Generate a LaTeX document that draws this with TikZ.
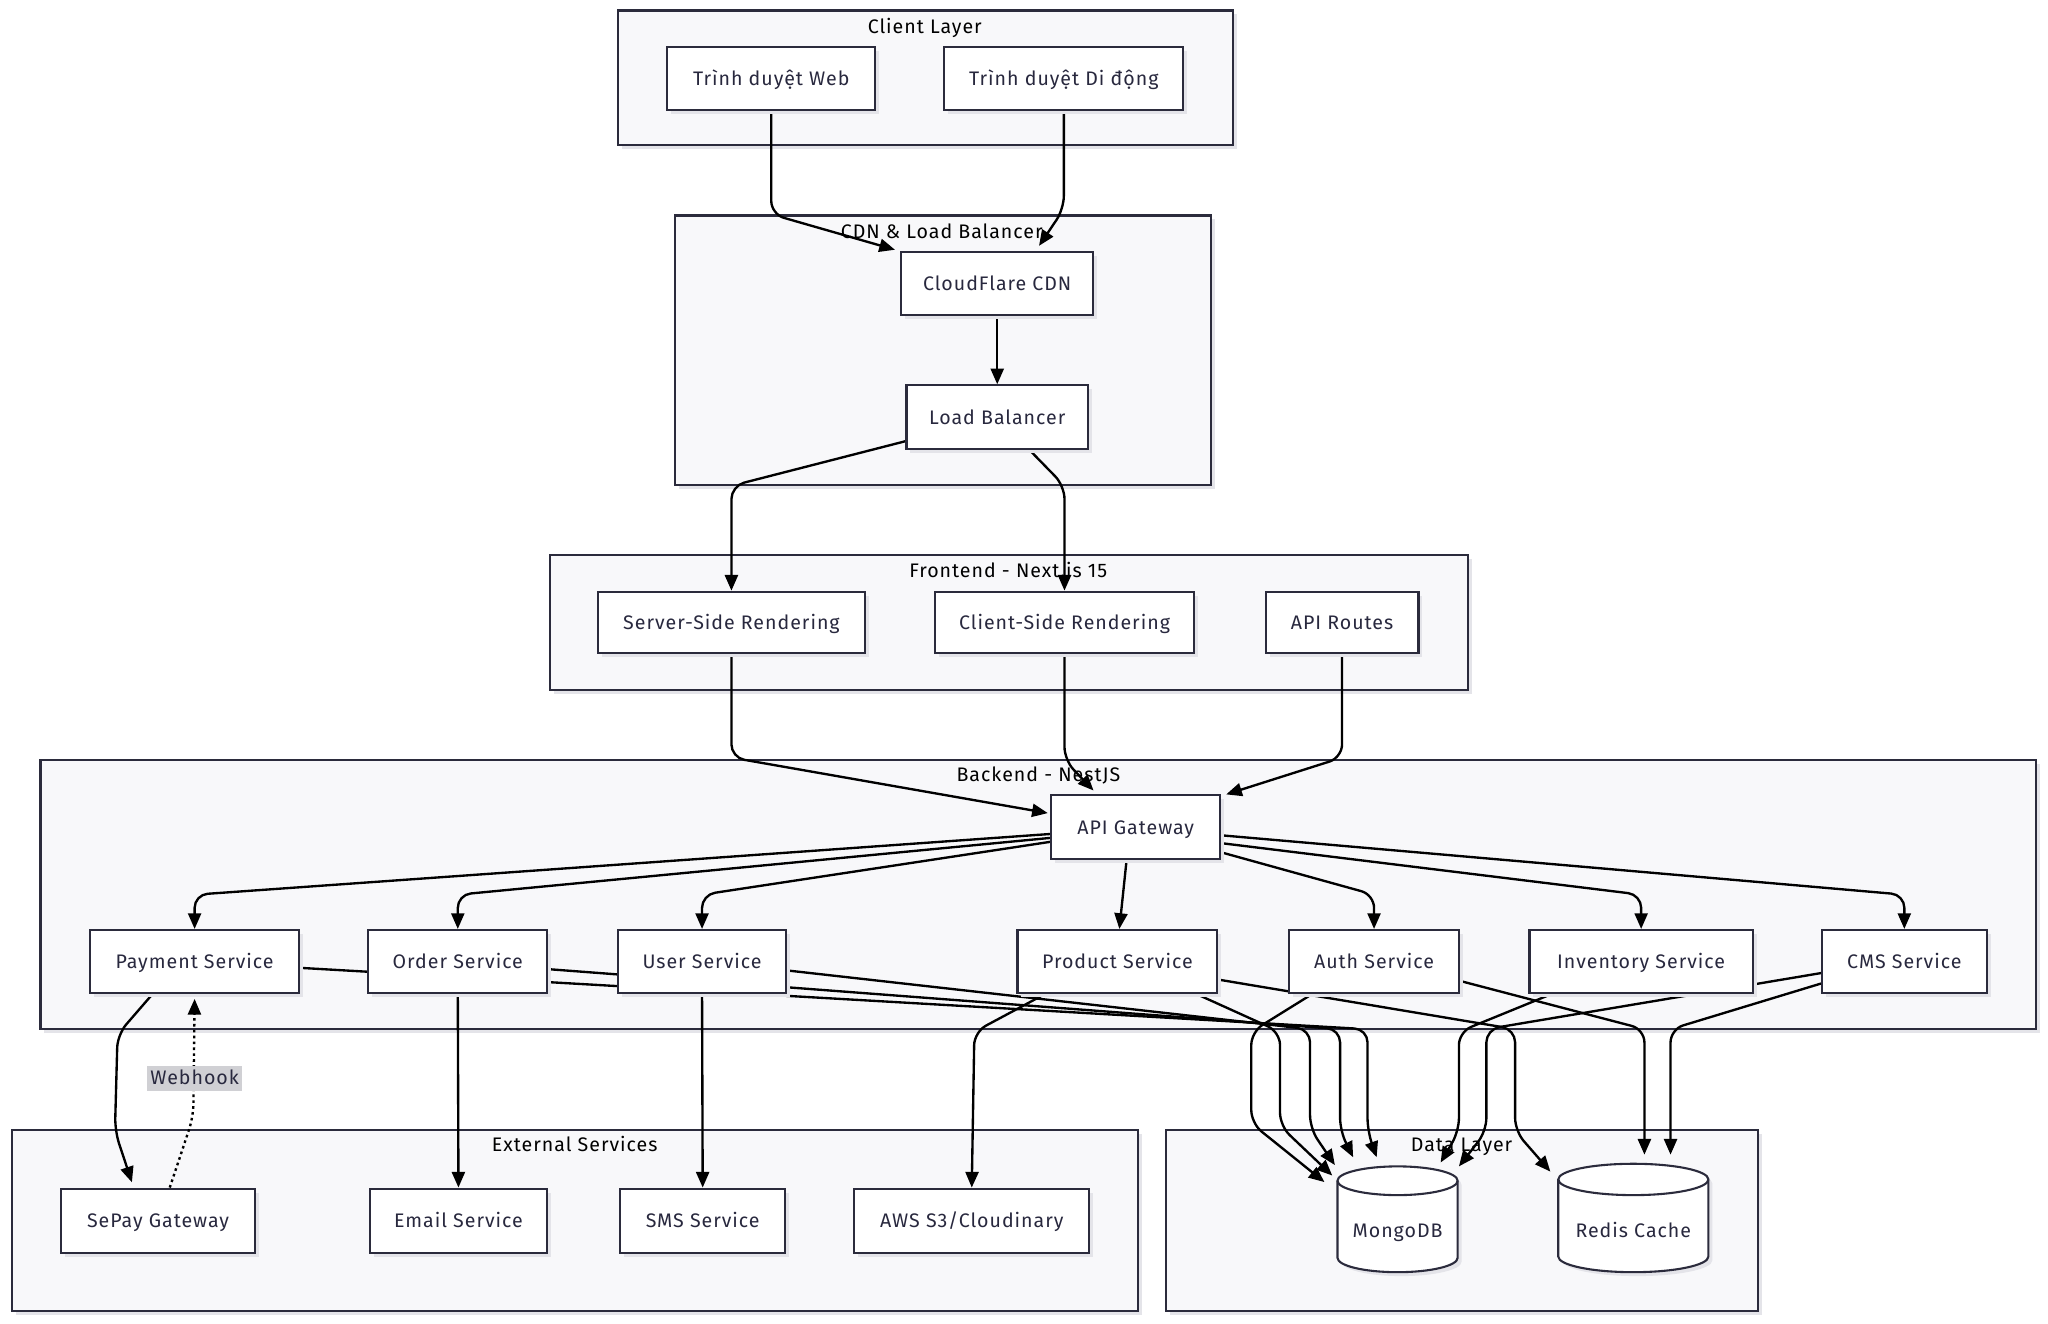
\documentclass[tikz,border=0pt]{standalone}
\usepackage{fontspec}
\setmainfont[LetterSpace=5]{Fira Sans}
\usetikzlibrary{arrows.meta,calc,shadows}
\definecolor{ln}{RGB}{43,43,60}
\definecolor{tx}{RGB}{40,40,62}
\definecolor{cfill}{RGB}{248,248,250}
\definecolor{shd}{RGB}{228,228,233}
\definecolor{lblbg}{RGB}{208,208,212}
\pgfdeclarelayer{bg}
\pgfdeclarelayer{edges}
\pgfsetlayers{bg,edges,main}
\tikzset{
  box/.style={draw=ln, line width=1.6pt, fill=white, minimum height=48pt, inner sep=0pt, text=tx,
    text height=13pt, text depth=2pt,
    drop shadow={shadow xshift=3pt, shadow yshift=-3pt, fill=shd, opacity=1}},
  cluster/.style={draw=ln, line width=1.6pt, fill=cfill,
    drop shadow={shadow xshift=3pt, shadow yshift=-3pt, fill=shd, opacity=1}},
  ctitle/.style={text=black, inner sep=0pt, text height=13pt, text depth=2pt},
  edge/.style={draw=black, line width=1.8pt, rounded corners=10pt, -{Triangle[length=12pt,width=10pt]}},
  dotline/.style={draw=black, line width=1.8pt, dash pattern=on 2pt off 2.5pt, rounded corners=10pt, -{Triangle[length=12pt,width=10pt]}},
  lbl/.style={fill=lblbg, text=tx, inner sep=2.5pt, text height=11pt, text depth=3pt},
  cyltext/.style={text=tx, inner sep=0pt, text height=13pt, text depth=2pt}
}
\begin{document}
\begin{tikzpicture}[x=1pt,y=-1pt,font=\fontsize{15}{18}\selectfont]
\useasboundingbox (0,0) rectangle (1568,1013);

% ---------- nodes ----------
\node[box, minimum width=159pt] (web) at (590.5,60) {Trình duyệt Web};
\node[box, minimum width=183pt] (mob) at (814.5,60) {Trình duyệt Di động};
\node[box, minimum width=147pt] (cdn) at (763.5,217) {CloudFlare CDN};
\node[box, minimum width=139pt, minimum height=49pt] (lb) at (763.5,319.5) {Load Balancer};
\node[box, minimum width=204pt, minimum height=47pt] (ssr) at (560,476.5) {Server-Side Rendering};
\node[box, minimum width=198pt, minimum height=47pt] (csr) at (815,476.5) {Client-Side Rendering};
\node[box, minimum width=117pt, minimum height=47pt] (apir) at (1027.5,476.5) {API Routes};
\node[box, minimum width=129pt, minimum height=49pt] (gw) at (869.5,633.5) {API Gateway};
\node[box, minimum width=160pt] (pay) at (149,736) {Payment Service};
\node[box, minimum width=137pt] (ord) at (350.5,736) {Order Service};
\node[box, minimum width=129pt] (usr) at (537.5,736) {User Service};
\node[box, minimum width=153pt] (prod) at (855.5,736) {Product Service};
\node[box, minimum width=130pt] (auth) at (1052,736) {Auth Service};
\node[box, minimum width=171pt] (inv) at (1256.5,736) {Inventory Service};
\node[box, minimum width=126pt] (cms) at (1458,736) {CMS Service};
\node[box, minimum width=148pt, minimum height=49pt] (sepay) at (121,934.5) {SePay Gateway};
\node[box, minimum width=136pt, minimum height=49pt] (email) at (351,934.5) {Email Service};
\node[box, minimum width=126pt, minimum height=49pt] (sms) at (538,934.5) {SMS Service};
\node[box, minimum width=180pt, minimum height=49pt] (aws) at (744,934.5) {AWS S3/Cloudinary};

% cylinders
\fill[shd] (1027,907) -- (1027,966) arc[start angle=180,end angle=360,x radius=46pt,y radius=11pt] -- (1119,907) arc[start angle=0,end angle=180,x radius=46pt,y radius=11pt] -- cycle;
\filldraw[fill=white, draw=ln, line width=1.6pt] (1024,904) -- (1024,963) arc[start angle=180,end angle=360,x radius=46pt,y radius=11pt] -- (1116,904) arc[start angle=0,end angle=180,x radius=46pt,y radius=11pt] -- cycle;
\draw[ln, line width=1.6pt] (1024,904) arc[start angle=180,end angle=360,x radius=46pt,y radius=11pt];
\node[cyltext] (mongo) at (1070,942) {MongoDB};

\fill[shd] (1196,906) -- (1196,965) arc[start angle=180,end angle=360,x radius=57.5pt,y radius=12pt] -- (1311,906) arc[start angle=0,end angle=180,x radius=57.5pt,y radius=12pt] -- cycle;
\filldraw[fill=white, draw=ln, line width=1.6pt] (1193,903) -- (1193,962) arc[start angle=180,end angle=360,x radius=57.5pt,y radius=12pt] -- (1308,903) arc[start angle=0,end angle=180,x radius=57.5pt,y radius=12pt] -- cycle;
\draw[ln, line width=1.6pt] (1193,903) arc[start angle=180,end angle=360,x radius=57.5pt,y radius=12pt];
\node[cyltext] (redis) at (1250.5,942) {Redis Cache};

% ---------- clusters ----------
\begin{pgfonlayer}{bg}
\draw[cluster] (473,8) rectangle (944,111);
\node[ctitle] (tclient) at (708,20) {Client Layer};
\draw[cluster] (517,165) rectangle (927,371);
\node[ctitle] (tcdn) at (721,177) {CDN \& Load Balancer};
\draw[cluster] (421,425) rectangle (1124,528);
\node[ctitle] (tfront) at (772,437) {Frontend - Next.js 15};
\draw[cluster] (31,582) rectangle (1559,788);
\node[ctitle] (tback) at (795,593) {Backend - NestJS};
\draw[cluster] (9,865) rectangle (871,1004);
\node[ctitle] (text) at (440,876) {External Services};
\draw[cluster] (893,865) rectangle (1346,1004);
\node[ctitle] (tdata) at (1119,876) {Data Layer};
\end{pgfonlayer}

% ---------- edges ----------
\begin{pgfonlayer}{edges}
\draw[edge] (web.south) -- (590.5,164) -- ($(cdn.north west)+(-4,-1)$);
\draw[edge] (mob.south) -- (814.5,160) -- ($(cdn.north)+(32,-4)$);
\draw[edge] (cdn.south) -- (lb.north);
\draw[edge] ($(lb.south west)+(0,-7)$) -- (560,372) -- (ssr.north);
\draw[edge] ($(lb.south)+(25,0)$) -- (815,372) -- (csr.north);
\draw[edge] (ssr.south) -- (560,580) -- ($(gw.west)+(-2,-11)$);
\draw[edge] (csr.south) -- (815,582) -- ($(gw.north west)+(33,-3)$);
\draw[edge] (apir.south) -- (1027.5,580) -- ($(gw.north east)+(4,0)$);
\draw[edge] ($(gw.west)+(0,5)$) -- (149,685) -- (pay.north);
\draw[edge] ($(gw.west)+(0,8)$) -- (350.5,685) -- (ord.north);
\draw[edge] ($(gw.west)+(0,11)$) -- (537.5,685) -- (usr.north);
\draw[edge] ($(gw.south)+(-7,0)$) -- ($(prod.north)+(1.5,0)$);
\draw[edge] ($(gw.east)+(0,19)$) -- (1052,685) -- (auth.north);
\draw[edge] ($(gw.east)+(0,12)$) -- (1256.5,685) -- (inv.north);
\draw[edge] ($(gw.east)+(0,6)$) -- (1458,685) -- (cms.north);
\draw[edge] ($(pay.south)+(-32,0)$) -- (90,792) -- (88,866) -- ($(sepay.north)+(-20,-4)$);
\draw[dotline] ($(sepay.north)+(9,0)$) -- (148,855) -- ($(pay.south)+(0,4)$);
\node[lbl] (wh) at (149,826) {Webhook};
\draw[edge] (ord.south) -- (email.north);
\draw[edge] (usr.south) -- (sms.north);
\draw[edge] ($(prod.south)+(-55,0)$) -- (746,790) -- (aws.north);
% to MongoDB
\draw[edge] ($(pay.east)+(0,5)$) -- (1047,788) -- (1047,866) -- ($(mongo)+(-16,-56)$);
\draw[edge] ($(ord.east)+(0,6)$) -- (1026,788) -- (1026,866) -- ($(mongo)+(-34,-56)$);
\draw[edge] ($(usr.east)+(0,7)$) -- (1003,788) -- (1003,864) -- ($(mongo)+(-48,-50)$);
\draw[edge] ($(prod.south)+(60,0)$) -- (980,790) -- (980,862) -- ($(mongo)+(-50,-42)$);
\draw[edge] ($(auth.south)+(-47,0)$) -- (958,790) -- (958,860) -- ($(mongo)+(-56,-37)$);
\draw[edge] ($(inv.south)+(-68,0)$) -- (1117,790) -- (1117,866) -- ($(mongo)+(33,-52)$);
\draw[edge] ($(cms.west)+(0,9)$) -- (1138,788) -- (1138,866) -- ($(mongo)+(47,-49)$);
% to Redis
\draw[edge] ($(prod.east)+(0,14)$) -- (1160,788) -- (1160,866) -- ($(redis)+(-63.5,-45)$);
\draw[edge] ($(auth.east)+(0,15)$) -- (1259,788) -- ($(redis)+(8.5,-58)$);
\draw[edge] ($(cms.west)+(0,17)$) -- (1279,788) -- ($(redis)+(28.5,-58)$);
\end{pgfonlayer}
\end{tikzpicture}
\end{document}
